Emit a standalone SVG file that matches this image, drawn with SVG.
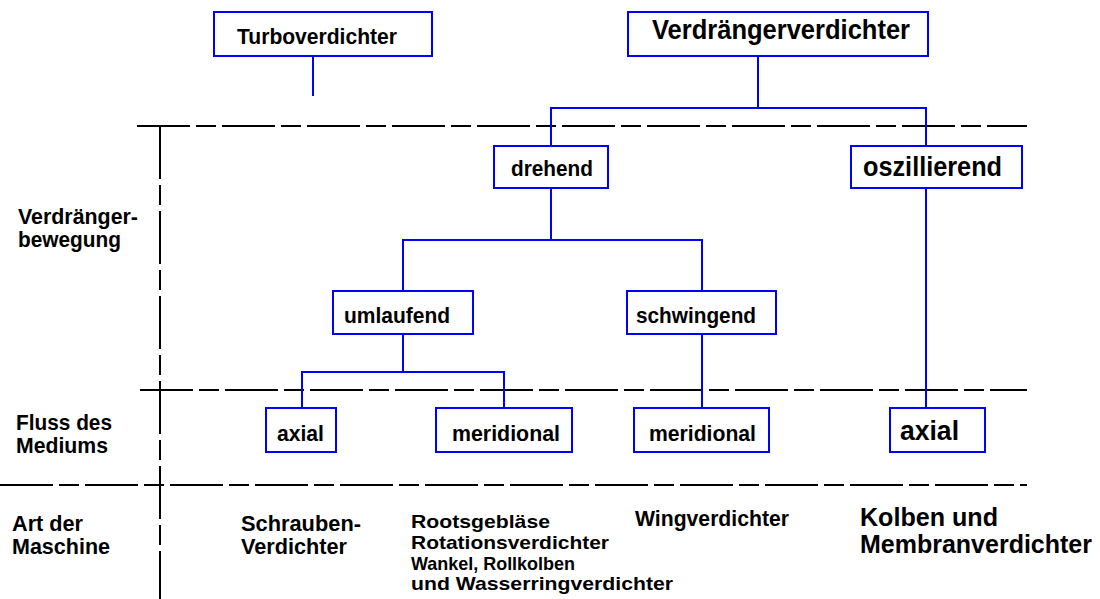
<svg xmlns="http://www.w3.org/2000/svg" width="1100" height="599" viewBox="0 0 1100 599">
<style>
.box{fill:#fff;stroke:#0000ff;stroke-width:2}
.con{fill:none;stroke:#0000ff;stroke-width:2}
.dash{fill:none;stroke:#000;stroke-width:2;stroke-dasharray:53 6 20 6}
text{font-family:"Liberation Sans",Arial,sans-serif;font-weight:bold;fill:#000}
.s{font-size:22px}
.r{font-size:19px}
.l{font-size:28px}
.k{font-size:25px}
</style>
<rect width="1100" height="599" fill="#fff"/>
<g id="grid">
<line class="dash" x1="137" y1="126" x2="1027" y2="126"/>
<line class="dash" x1="140" y1="390" x2="1027" y2="390"/>
<line class="dash" x1="0" y1="485" x2="1027" y2="485"/>
<line class="dash" x1="160" y1="126" x2="160" y2="599"/>
</g>
<g id="connectors">
<path class="con" d="M313 56V96"/>
<path class="con" d="M758 56V108M551 146V108H926V146"/>
<path class="con" d="M551 188V240M403 291V240H702V291"/>
<path class="con" d="M403 334V372M302 408V372H504V408"/>
<path class="con" d="M702 334V408"/>
<path class="con" d="M926 188V408"/>
</g>
<g id="turbo"><rect class="box" x="214" y="12" width="218" height="44"/><text class="s" x="237" y="44" textLength="160" lengthAdjust="spacingAndGlyphs">Turboverdichter</text></g>
<g id="verdraenger"><rect class="box" x="628" y="12" width="300" height="44"/><text class="l" x="652" y="39" textLength="258" lengthAdjust="spacingAndGlyphs">Verdrängerverdichter</text></g>
<g id="drehend"><rect class="box" x="494" y="146" width="114" height="42"/><text class="s" x="511" y="176" textLength="82" lengthAdjust="spacingAndGlyphs">drehend</text></g>
<g id="oszillierend"><rect class="box" x="851" y="146" width="171" height="42"/><text class="l" x="863" y="176" textLength="139" lengthAdjust="spacingAndGlyphs">oszillierend</text></g>
<g id="umlaufend"><rect class="box" x="333" y="291" width="140" height="43"/><text class="s" x="344" y="323" textLength="106" lengthAdjust="spacingAndGlyphs">umlaufend</text></g>
<g id="schwingend"><rect class="box" x="627" y="291" width="149" height="43"/><text class="s" x="636" y="323" textLength="120" lengthAdjust="spacingAndGlyphs">schwingend</text></g>
<g id="axial1"><rect class="box" x="266" y="408" width="70" height="44"/><text class="s" x="277" y="441" textLength="47" lengthAdjust="spacingAndGlyphs">axial</text></g>
<g id="meridional1"><rect class="box" x="436" y="408" width="136" height="44"/><text class="s" x="452" y="441" textLength="108" lengthAdjust="spacingAndGlyphs">meridional</text></g>
<g id="meridional2"><rect class="box" x="634" y="408" width="135" height="44"/><text class="s" x="649" y="441" textLength="107" lengthAdjust="spacingAndGlyphs">meridional</text></g>
<g id="axial2"><rect class="box" x="890" y="408" width="95" height="44"/><text class="l" x="900" y="440" textLength="59" lengthAdjust="spacingAndGlyphs">axial</text></g>
<g id="labels">
<text class="s" x="18" y="224" textLength="120" lengthAdjust="spacingAndGlyphs">Verdränger-</text>
<text class="s" x="18" y="247" textLength="103" lengthAdjust="spacingAndGlyphs">bewegung</text>
<text class="s" x="16" y="430" textLength="96" lengthAdjust="spacingAndGlyphs">Fluss des</text>
<text class="s" x="16" y="453" textLength="92" lengthAdjust="spacingAndGlyphs">Mediums</text>
<text class="s" x="12" y="531" textLength="71" lengthAdjust="spacingAndGlyphs">Art der</text>
<text class="s" x="12" y="554" textLength="98" lengthAdjust="spacingAndGlyphs">Maschine</text>
<text class="s" x="241" y="531" textLength="120" lengthAdjust="spacingAndGlyphs">Schrauben-</text>
<text class="s" x="241" y="554" textLength="106" lengthAdjust="spacingAndGlyphs">Verdichter</text>
<text class="r" x="411" y="528" textLength="139" lengthAdjust="spacingAndGlyphs">Rootsgebläse</text>
<text class="r" x="411" y="549" textLength="198" lengthAdjust="spacingAndGlyphs">Rotationsverdichter</text>
<text class="r" x="411" y="570" textLength="164" lengthAdjust="spacingAndGlyphs">Wankel, Rollkolben</text>
<text class="r" x="411" y="590" textLength="262" lengthAdjust="spacingAndGlyphs">und Wasserringverdichter</text>
<text class="s" x="635" y="526" textLength="154" lengthAdjust="spacingAndGlyphs">Wingverdichter</text>
<text class="k" x="860" y="526" textLength="138" lengthAdjust="spacingAndGlyphs">Kolben und</text>
<text class="k" x="860" y="553" textLength="232" lengthAdjust="spacingAndGlyphs">Membranverdichter</text>
</g>
</svg>
